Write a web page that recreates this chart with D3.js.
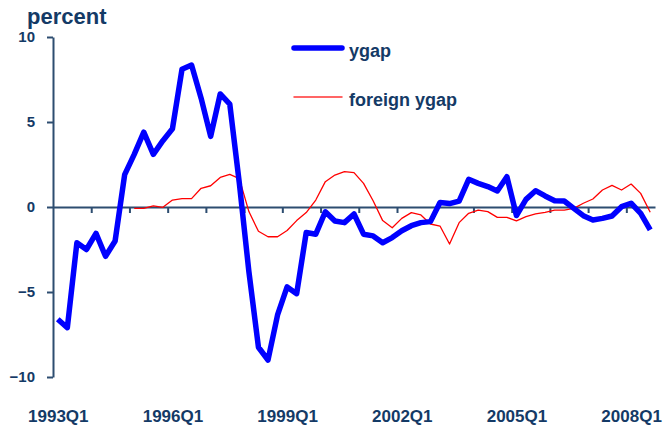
<!doctype html>
<html>
  <head>
    <meta charset="utf-8">
    <title>ygap vs foreign ygap</title>
    <script src="https://d3js.org/d3.v7.min.js"></script>
    <style>
        body {
            margin: 0;
            padding: 0;
            background: #fff;
        }
        svg text {
            font-family: "Liberation Sans", Arial, sans-serif;
            font-weight: bold;
            fill: #143a66;
        }
    </style>
  </head>
  <body>
    <div id="chart"></div>
    <script>
        /*
        data
        */
        var quarters = [
            "1993Q1","1993Q2","1993Q3","1993Q4","1994Q1","1994Q2","1994Q3","1994Q4",
            "1995Q1","1995Q2","1995Q3","1995Q4","1996Q1","1996Q2","1996Q3","1996Q4",
            "1997Q1","1997Q2","1997Q3","1997Q4","1998Q1","1998Q2","1998Q3","1998Q4",
            "1999Q1","1999Q2","1999Q3","1999Q4","2000Q1","2000Q2","2000Q3","2000Q4",
            "2001Q1","2001Q2","2001Q3","2001Q4","2002Q1","2002Q2","2002Q3","2002Q4",
            "2003Q1","2003Q2","2003Q3","2003Q4","2004Q1","2004Q2","2004Q3","2004Q4",
            "2005Q1","2005Q2","2005Q3","2005Q4","2006Q1","2006Q2","2006Q3","2006Q4",
            "2007Q1","2007Q2","2007Q3","2007Q4","2008Q1","2008Q2","2008Q3"
        ];
        var ygap = [
            -6.6, -7.1, -2.1, -2.5, -1.55, -2.9, -2.0, 1.9,
            3.1, 4.4, 3.1, 3.9, 4.6, 8.1, 8.35, 6.4,
            4.15, 6.65, 6.05, 1.4, -3.8, -8.25, -9.0, -6.35,
            -4.7, -5.1, -1.5, -1.6, -0.28, -0.82, -0.92, -0.41,
            -1.6, -1.7, -2.1, -1.8, -1.4, -1.1, -0.92, -0.86,
            0.27, 0.2, 0.35, 1.63, 1.39, 1.2, 0.94, 1.78,
            -0.5, 0.45, 0.96, 0.65, 0.37, 0.35, -0.08, -0.51,
            -0.76, -0.67, -0.53, 0.02, 0.22, -0.37, -1.35
        ];
        var foreignYgap = [
            null, null, null, null, null, null, null, null,
            -0.08, -0.08, 0.06, -0.02, 0.41, 0.49, 0.49, 1.1,
            1.25, 1.74, 1.92, 1.67, -0.27, -1.43, -1.75, -1.75,
            -1.38, -0.8, -0.33, 0.41, 1.49, 1.88, 2.08, 2.02,
            1.39, 0.37, -0.8, -1.22, -0.67, -0.33, -0.47, -1.0,
            -1.12, -2.18, -0.92, -0.37, -0.18, -0.27, -0.61, -0.61,
            -0.82, -0.57, -0.41, -0.31, -0.18, -0.18, -0.08, 0.22,
            0.47, 1.0, 1.27, 1.0, 1.35, 0.8, -0.31
        ];
        var yTicks = [-10, -5, 0, 5, 10];
        var seriesNames = ["ygap", "foreign ygap"];

        /*
        svg + scales
        */
        var width = 663;
        var height = 430;
        var axisColor = "#2d4d70";

        var svg = d3.select("#chart")
            .append("svg")
            .attr("width", width)
            .attr("height", height);

        // index scale, points sit in the middle of each quarter
        var x = d3.scaleLinear()
            .domain([0, quarters.length])
            .range([53, 655]);

        var y = d3.scaleLinear()
            .domain([-10, 10])
            .range([377, 37]);

        /*
        y axis
        */
        var yAxis = svg.append("g")
            .attr("transform", "translate(" + x(0) + ",0)")
            .call(d3.axisLeft(y)
                .tickValues(yTicks)
                .tickSize(6)
                .tickPadding(12)
                .tickSizeOuter(0));
        yAxis.select(".domain").attr("stroke", axisColor).attr("stroke-width", 2);
        yAxis.selectAll(".tick line").attr("stroke", axisColor).attr("stroke-width", 2);
        yAxis.selectAll(".tick text")
            .style("font-size", "15px")
            .attr("fill", "#143a66");

        /*
        x axis on the zero line, ticks between years
        */
        var yearBreaks = d3.range(4, quarters.length, 4);
        var xAxis = svg.append("g")
            .attr("transform", "translate(0," + y(0) + ")")
            .call(d3.axisBottom(x)
                .tickValues(yearBreaks)
                .tickSize(6)
                .tickFormat("")
                .tickSizeOuter(0));
        xAxis.select(".domain").attr("stroke", axisColor).attr("stroke-width", 2);
        xAxis.selectAll(".tick line").attr("stroke", axisColor).attr("stroke-width", 2);

        // labels every 3 years at the bottom
        var labelIdx = d3.range(0, quarters.length, 12);
        var xLabels = svg.append("g")
            .attr("transform", "translate(0,410)")
            .call(d3.axisBottom(x)
                .tickValues(labelIdx.map((i) => i + 0.5))
                .tickSize(0)
                .tickPadding(0)
                .tickFormat((d) => quarters[Math.floor(d)]));
        xLabels.select(".domain").remove();
        xLabels.selectAll(".tick text")
            .style("font-size", "17px")
            .attr("fill", "#143a66");

        /*
        lines
        */
        var line = d3.line()
            .defined((d) => d != null)
            .x((d, i) => x(i + 0.5))
            .y((d) => y(d));

        svg.append("path")
            .datum(foreignYgap)
            .attr("fill", "none")
            .attr("stroke", "#ff0000")
            .attr("stroke-width", 1.3)
            .attr("stroke-linejoin", "round")
            .attr("d", line);

        svg.append("path")
            .datum(ygap)
            .attr("fill", "none")
            .attr("stroke", "#0000ff")
            .attr("stroke-width", 5.5)
            .attr("stroke-linejoin", "round")
            .attr("d", line);

        /*
        title + legend
        */
        svg.append("text")
            .attr("x", 27)
            .attr("y", 24)
            .style("font-size", "22px")
            .text("percent");

        var legend = svg.append("g");
        var legendItems = [
            {name: seriesNames[0], color: "#0000ff", w: 5.5, y: 48},
            {name: seriesNames[1], color: "#ff3333", w: 1.5, y: 97}
        ];
        legend.selectAll("line")
            .data(legendItems)
            .enter()
            .append("line")
            .attr("x1", 294)
            .attr("x2", 342)
            .attr("y1", (d) => d.y)
            .attr("y2", (d) => d.y)
            .attr("stroke", (d) => d.color)
            .attr("stroke-width", (d) => d.w)
            .attr("stroke-linecap", "round");
        legend.selectAll("text")
            .data(legendItems)
            .enter()
            .append("text")
            .attr("x", 349)
            .attr("y", (d) => d.y + 9)
            .style("font-size", "18px")
            .text((d) => d.name);
    </script>
  </body>
</html>
